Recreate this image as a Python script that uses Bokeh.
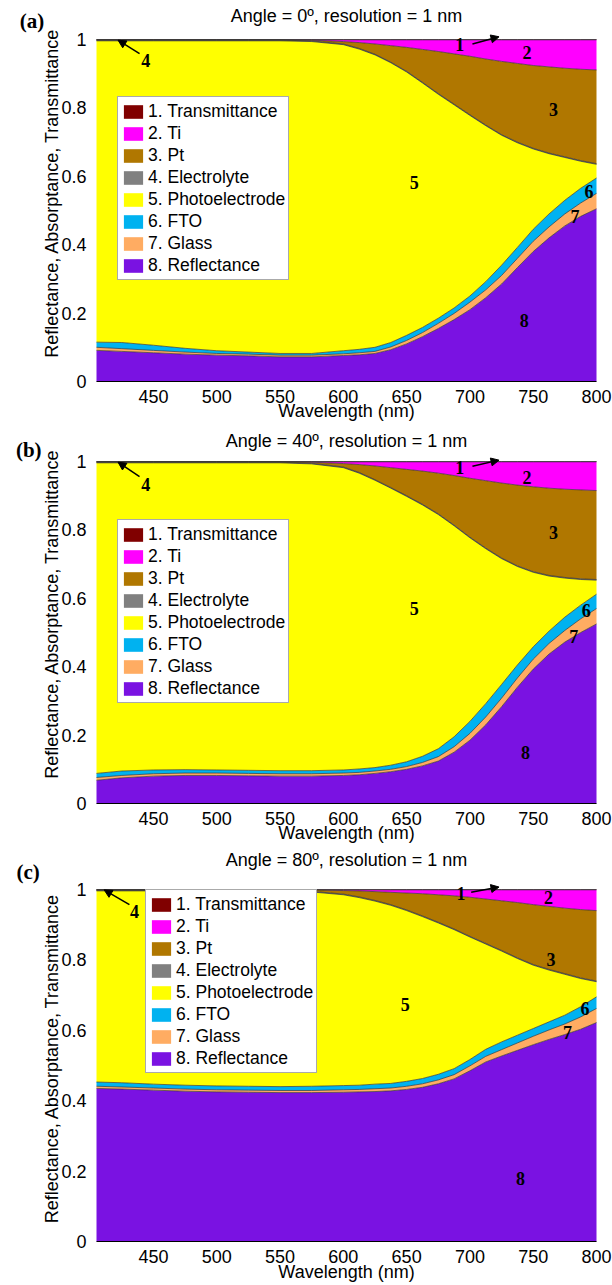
from bokeh.plotting import figure
from bokeh.layouts import column
from bokeh.models import (ColumnDataSource, Range1d, FixedTicker, Legend, LegendItem,
                          Label, Arrow, NormalHead)
from bokeh.embed import file_html
from bokeh.resources import INLINE

# ---------------- data ----------------
wavelength = [405, 425, 450, 475, 500, 525, 550, 575, 600, 612.5, 625, 637.5, 650, 662.5,
              675, 687.5, 700, 712.5, 725, 737.5, 750, 762.5, 775, 787.5, 800]
x_ticks = [450, 500, 550, 600, 650, 700, 750, 800]
y_ticks = [0, 0.2, 0.4, 0.6, 0.8, 1]

# stacking order, bottom -> top
layer_keys = ["reflectance", "glass", "fto", "photoelectrode", "electrolyte", "pt", "ti", "transmittance"]
# legend order
legend_keys = ["transmittance", "ti", "pt", "electrolyte", "photoelectrode", "fto", "glass", "reflectance"]
legend_names = ["1. Transmittance", "2. Ti", "3. Pt", "4. Electrolyte",
                "5. Photoelectrode", "6. FTO", "7. Glass", "8. Reflectance"]
legend_colors = ["#800000", "#FF00FF", "#B07700", "#808080",
                 "#FFFF00", "#00B2F0", "#FFAC62", "#7A12E2"]

# ---- Angle = 0 deg ----
a_reflectance = [.091, .088, .084, .080, .077, .075, .072, .072, .076, .078, .082, .093, .110, .131,
                 .155, .181, .210, .245, .285, .333, .380, .420, .455, .483, .505]
a_glass = [.009, .008, .007, .006, .005, .005, .005, .005, .005, .006, .006, .008, .010, .012,
           .015, .018, .022, .023, .025, .027, .030, .032, .035, .039, .045]
a_fto = [.015, .018, .015, .011, .008, .006, .005, .005, .009, .010, .012, .013, .015, .015,
         .015, .016, .018, .024, .030, .032, .035, .038, .040, .043, .045]
a_photoelectrode = [.881, .882, .890, .899, .906, .910, .914, .912, .895, .878, .855, .818, .770, .715,
                    .655, .594, .528, .456, .380, .306, .235, .176, .125, .079, .040]
a_electrolyte = [.002] * 25
a_pt = [.001, .001, .001, .001, .001, .001, .001, .002, .007, .017, .030, .048, .070, .096,
        .123, .147, .171, .193, .214, .230, .242, .252, .259, .267, .274]
a_ti = [0, 0, 0, 0, 0, 0, 0, .001, .005, .008, .012, .017, .022, .028,
        .034, .041, .048, .056, .063, .069, .075, .079, .083, .086, .088]
a_transmittance = [.001] * 25

# ---- Angle = 40 deg ----
b_reflectance = [.068, .075, .080, .082, .082, .081, .080, .080, .082, .084, .088, .093, .100, .110,
                 .124, .150, .185, .230, .283, .340, .393, .437, .472, .500, .525]
b_glass = [.008, .007, .007, .007, .007, .007, .007, .007, .007, .007, .007, .007, .008, .010,
           .013, .016, .020, .023, .025, .027, .029, .031, .034, .040, .045]
b_fto = [.012, .013, .011, .010, .009, .009, .009, .009, .009, .010, .010, .012, .014, .018,
         .023, .029, .035, .039, .040, .038, .036, .036, .039, .040, .042]
b_photoelectrode = [.908, .901, .898, .897, .898, .899, .900, .897, .884, .865, .840, .810, .776, .735,
                    .685, .617, .537, .453, .368, .288, .218, .161, .114, .075, .041]
b_electrolyte = [.002] * 25
b_pt = [.001, .001, .001, .001, .001, .001, .001, .003, .010, .023, .040, .058, .077, .097,
        .119, .145, .172, .197, .219, .236, .248, .255, .258, .260, .260]
b_ti = [0, 0, 0, 0, 0, 0, 0, .001, .005, .008, .012, .017, .022, .027,
        .033, .040, .048, .055, .062, .068, .073, .077, .080, .082, .084]
b_transmittance = [.001] * 25

# ---- Angle = 80 deg ----
c_reflectance = [.435, .433, .430, .427, .425, .424, .423, .423, .424, .425, .426, .428, .432, .438,
                 .448, .462, .485, .510, .527, .543, .559, .574, .588, .603, .622]
c_glass = [.006, .006, .006, .006, .006, .006, .006, .006, .007, .007, .008, .008, .009, .010,
           .011, .012, .014, .016, .018, .021, .024, .027, .030, .035, .040]
c_fto = [.012, .012, .011, .011, .011, .011, .011, .012, .012, .012, .013, .013, .014, .015,
         .016, .017, .018, .020, .022, .022, .022, .023, .025, .029, .033]
c_photoelectrode = [.543, .545, .549, .552, .554, .555, .556, .552, .542, .533, .520, .506, .485, .460,
                    .430, .395, .348, .299, .258, .218, .180, .147, .116, .080, .043]
c_electrolyte = [.002] * 25
c_pt = [.001, .001, .001, .001, .001, .001, .001, .004, .010, .017, .025, .035, .048, .063,
        .078, .094, .111, .126, .141, .157, .170, .179, .186, .194, .200]
c_ti = [0, 0, 0, 0, 0, 0, 0, 0, .002, .003, .005, .007, .009, .011,
        .014, .017, .021, .026, .031, .036, .042, .047, .052, .056, .059]
c_transmittance = [.001] * 25

# region-number annotations: (text, wavelength, value)
notes_a = [("1", 692, .986), ("2", 745, .961), ("3", 766, .794), ("4", 444, .940),
           ("5", 656, .582), ("6", 794, .557), ("7", 783, .482), ("8", 743, .178)]
notes_b = [("1", 692, .983), ("2", 745, .952), ("3", 766, .791), ("4", 444, .933),
           ("5", 656, .571), ("6", 792, .564), ("7", 782, .488), ("8", 744, .148)]
notes_c = [("1", 693, .988), ("2", 762, .978), ("3", 764, .800), ("4", 435, .938),
           ("5", 649, .673), ("6", 791, .662), ("7", 777, .594), ("8", 740, .180)]
# arrows: (x_start, y_start, x_end, y_end)
arrows_a = [(439, .959, 422, .998), (702, .987, 723, 1.008)]
arrows_b = [(439, .956, 422, .998), (702, .986, 723, 1.004)]
arrows_c = [(431, .957, 411, .999), (701, .992, 723, 1.007)]

SANS = "Liberation Sans"
SERIF = "Liberation Serif"

# pixel geometry of the frame inside each panel
PX_LEFT, PX_RIGHT, W_PX = 96, 596, 612


def make_panel(tag, title, layers, height, top_px, bottom_px, legend_xy, notes, arrows,
               title_y, tag_xy, ylabel_y, xlabel_y):
    data = dict(wl=wavelength)
    data.update(layers)
    src = ColumnDataSource(data)
    ppx = (PX_RIGHT - PX_LEFT) / (800 - 405)
    x0 = 405 - PX_LEFT / ppx
    x1 = 800 + (W_PX - PX_RIGHT) / ppx
    ppy = bottom_px - top_px
    y1 = 1 + top_px / ppy
    y0 = -(height - bottom_px) / ppy
    p = figure(width=W_PX, height=height, x_range=Range1d(x0, x1), y_range=Range1d(y0, y1),
               output_backend="svg", toolbar_location=None,
               min_border=0, min_border_left=0, min_border_right=0,
               min_border_top=0, min_border_bottom=0)
    color_of = dict(zip(legend_keys, legend_colors))
    areas = p.varea_stack(stackers=layer_keys, x="wl", color=[color_of[k] for k in layer_keys], source=src)
    p.vline_stack(stackers=layer_keys, x="wl", line_color="#333333", line_width=0.7, source=src)
    area_of = dict(zip(layer_keys, areas))

    p.grid.visible = False
    p.outline_line_color = None
    p.background_fill_color = "white"
    p.border_fill_color = "white"

    xa = p.xaxis[0]
    ya = p.yaxis[0]
    xa.fixed_location = 0
    xa.bounds = (405, 800)
    ya.fixed_location = 405
    ya.bounds = (0, 1)
    xa.ticker = FixedTicker(ticks=x_ticks)
    ya.ticker = FixedTicker(ticks=y_ticks)
    ya.major_label_overrides = {0: "0", 1: "1"}
    for ax in (xa, ya):
        ax.major_tick_line_color = None
        ax.minor_tick_line_color = None
        ax.major_label_text_font = SANS
        ax.major_label_text_font_size = "18px"
        ax.major_label_text_color = "black"
    xa.major_label_standoff = 2
    ya.major_label_standoff = 4
    xa.axis_line_color = "black"
    ya.axis_line_color = None

    items = [LegendItem(label=name, renderers=[area_of[k]])
             for name, k in zip(legend_names, legend_keys)]
    leg = Legend(items=items, location=legend_xy, margin=0, padding=3, spacing=0,
                 glyph_width=24, glyph_height=17, label_height=22, label_standoff=3,
                 label_text_font=SANS, label_text_font_size="17.5px", label_text_color="black",
                 border_line_color="#555555", border_line_width=1,
                 background_fill_color="white", background_fill_alpha=1)
    p.add_layout(leg)

    for txt, x, y in notes:
        p.add_layout(Label(x=x, y=y, text=txt, text_font=SERIF, text_font_style="bold",
                           text_font_size="18px", text_color="black",
                           text_align="center", text_baseline="middle"))
    for xs, ys, xe, ye in arrows:
        p.add_layout(Arrow(x_start=xs, y_start=ys, x_end=xe, y_end=ye, line_width=1.5,
                           line_color="black",
                           end=NormalHead(size=8, fill_color="black", line_color="black")))

    p.add_layout(Label(x=602.5, y=title_y, text=title, text_font=SANS, text_font_size="18px",
                       text_color="black", text_align="center", text_baseline="middle"))
    p.add_layout(Label(x=tag_xy[0], y=tag_xy[1], text=tag, text_font=SERIF, text_font_style="bold",
                       text_font_size="21px", text_color="black",
                       text_align="center", text_baseline="middle"))
    p.add_layout(Label(x=370, y=ylabel_y, text="Reflectance, Absorptance, Transmittance",
                       text_font=SANS, text_font_size="18px", text_color="black", angle=1.5707963,
                       text_align="center", text_baseline="middle"))
    p.add_layout(Label(x=602.5, y=xlabel_y, text="Wavelength (nm)", text_font=SANS,
                       text_font_size="18px", text_color="black",
                       text_align="center", text_baseline="middle"))
    return p


def layers_of(r, g, f, ph, e, pt, ti, t):
    return dict(reflectance=r, glass=g, fto=f, photoelectrode=ph, electrolyte=e, pt=pt, ti=ti, transmittance=t)


pa = make_panel("(a)", "Angle = 0º, resolution = 1 nm",
                layers_of(a_reflectance, a_glass, a_fto, a_photoelectrode, a_electrolyte, a_pt, a_ti, a_transmittance),
                425, 39, 381, (117, 145), notes_a, arrows_a, 1.07, (354, 1.053), 0.551, -0.087)
pb = make_panel("(b)", "Angle = 40º, resolution = 1 nm",
                layers_of(b_reflectance, b_glass, b_fto, b_photoelectrode, b_electrolyte, b_pt, b_ti, b_transmittance),
                420, 36, 378, (117, 142), notes_b, arrows_b, 1.061, (351.5, 1.035), 0.554, -0.085)
pc = make_panel("(c)", "Angle = 80º, resolution = 1 nm",
                layers_of(c_reflectance, c_glass, c_fto, c_photoelectrode, c_electrolyte, c_pt, c_ti, c_transmittance),
                440, 44, 396, (145, 212), notes_c, arrows_c, 1.085, (351, 1.049), 0.52, -0.088)

layout = column(pa, pb, pc, spacing=0)
open("out.html", "w").write(file_html(layout, INLINE))
